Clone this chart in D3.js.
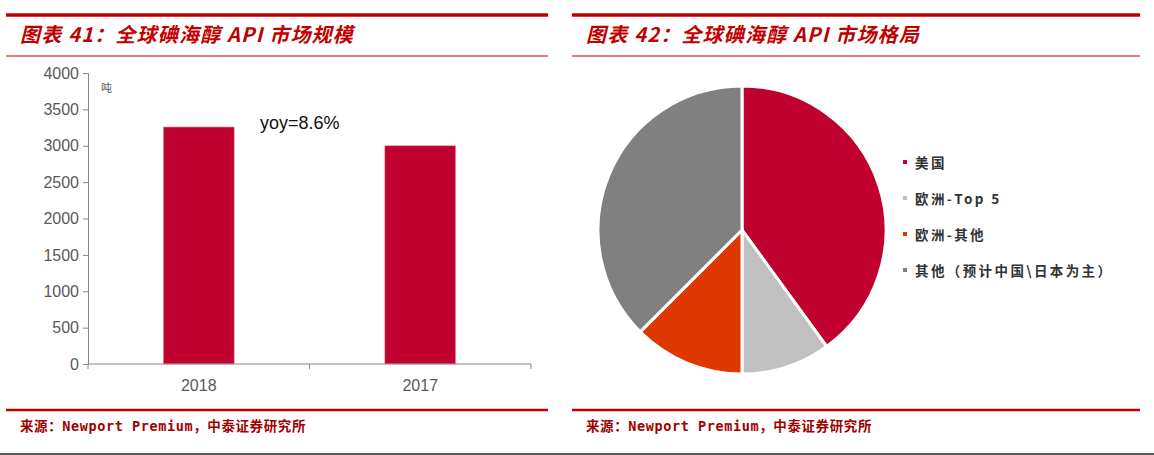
<!DOCTYPE html>
<html>
<head>
<meta charset="utf-8">
<script src="https://cdn.jsdelivr.net/npm/d3@7"></script>
<style>
  body { margin: 0; background: #fff; }
  svg text { font-family: "Liberation Sans", Arial, sans-serif; }
</style>
</head>
<body>
<script>
// data
const years = ["2018", "2017"];
const tons = [3258, 3000];
const yTicks = [0, 500, 1000, 1500, 2000, 2500, 3000, 3500, 4000];
const regions = ["美国", "欧洲-Top 5", "欧洲-其他", "其他（预计中国\\日本为主）"];
const shares = [40, 10, 12.5, 37.5];
const regionColors = ["#C0002F", "#C0C0C0", "#DE3800", "#808080"];

const svg = d3.select("body").append("svg")
    .attr("width", 1154)
    .attr("height", 455);

const red = "#C00000";

// panel frames: header lines, titles, source
function panel(x0, x1, title) {
    svg.append("line").attr("x1", x0).attr("x2", x1).attr("y1", 15).attr("y2", 15)
        .attr("stroke", red).attr("stroke-width", 3.5);
    svg.append("line").attr("x1", x0).attr("x2", x1).attr("y1", 56).attr("y2", 56)
        .attr("stroke", "#D65050").attr("stroke-width", 1.5);
    svg.append("text").attr("x", x0 + 14).attr("y", 42)
        .attr("fill", red)
        .style("font-family", "'Noto Sans CJK SC', sans-serif")
        .style("font-size", "20px").style("font-weight", "bold").style("font-style", "italic")
        .style("letter-spacing", "1.2px")
        .text(title);
    svg.append("line").attr("x1", x0).attr("x2", x1).attr("y1", 410).attr("y2", 410)
        .attr("stroke", red).attr("stroke-width", 2.5);
    svg.append("text").attr("x", x0 + 14).attr("y", 431)
        .attr("fill", "#A00000")
        .style("font-family", "'DejaVu Sans Mono', 'Noto Sans CJK SC', monospace")
        .style("font-size", "13.5px").style("font-weight", "bold")
        .style("letter-spacing", "0.6px")
        .text("来源：Newport Premium，中泰证券研究所");
}
panel(6, 548, "图表 41：全球碘海醇 API 市场规模");
panel(572, 1140, "图表 42：全球碘海醇 API 市场格局");

svg.append("line").attr("x1", 0).attr("x2", 1154).attr("y1", 454).attr("y2", 454)
    .attr("stroke", "#222").attr("stroke-width", 1.5);

// bar chart
const x = d3.scaleBand().domain(years).range([88, 531]).paddingInner(0.68).paddingOuter(0.34);
const y = d3.scaleLinear().domain([0, 4000]).range([364, 73]);

const gy = svg.append("g").attr("transform", "translate(88,0)")
    .call(d3.axisLeft(y).tickValues(yTicks).tickFormat(d3.format("d")).tickSize(5).tickPadding(4));
gy.select(".domain").attr("stroke", "#888");
gy.selectAll(".tick line").attr("stroke", "#888");
gy.selectAll(".tick text").attr("fill", "#595959").style("font-size", "16px");

svg.selectAll(".bar").data(years).enter().append("rect")
    .attr("class", "bar")
    .attr("x", d => x(d))
    .attr("width", x.bandwidth())
    .attr("y", (d, i) => y(tons[i]))
    .attr("height", (d, i) => y(0) - y(tons[i]))
    .attr("fill", "#C0002F")
    .attr("stroke", "#E8A0A8").attr("stroke-width", 0.6);

// x axis with ticks between categories
const xEdges = [88, 88 + (531 - 88) / 2, 531];
svg.append("line").attr("x1", 88).attr("x2", 531).attr("y1", y(0)).attr("y2", y(0))
    .attr("stroke", "#888").attr("stroke-width", 1.2);
svg.selectAll(".xt").data(xEdges).enter().append("line")
    .attr("x1", d => d).attr("x2", d => d).attr("y1", y(0)).attr("y2", y(0) + 5)
    .attr("stroke", "#888");
svg.selectAll(".xl").data(years).enter().append("text")
    .attr("x", d => x(d) + x.bandwidth() / 2)
    .attr("y", 391)
    .attr("text-anchor", "middle")
    .attr("fill", "#595959").style("font-size", "16px")
    .text(d => d);

svg.append("text").attr("x", 101).attr("y", 92).attr("fill", "#595959")
    .style("font-family", "'Noto Sans CJK SC', sans-serif").style("font-size", "11px")
    .text("吨");
svg.append("text").attr("x", 260).attr("y", 129).attr("fill", "#111")
    .style("font-size", "18px")
    .text("yoy=8.6%");

// pie chart
const pie = d3.pie().sort(null).value(d => d);
const arc = d3.arc().innerRadius(0).outerRadius(144);
const gp = svg.append("g").attr("transform", "translate(742,230)");
gp.selectAll("path").data(pie(shares)).enter().append("path")
    .attr("d", arc)
    .attr("fill", (d, i) => regionColors[i])
    .attr("stroke", "#fff").attr("stroke-width", 3);

// legend
const lg = svg.append("g").attr("transform", "translate(903,163)");
const items = lg.selectAll("g").data(regions).enter().append("g")
    .attr("transform", (d, i) => `translate(0,${i * 36})`);
items.append("rect").attr("x", 0).attr("y", -3).attr("width", 4).attr("height", 4)
    .attr("fill", (d, i) => regionColors[i]);
items.append("text").attr("x", 12).attr("y", 5)
    .attr("fill", "#333")
    .style("font-family", "'Noto Sans CJK SC', sans-serif")
    .style("font-size", "13.5px").style("font-weight", "bold")
    .style("letter-spacing", "2.4px")
    .text(d => d);
</script>
</body>
</html>
